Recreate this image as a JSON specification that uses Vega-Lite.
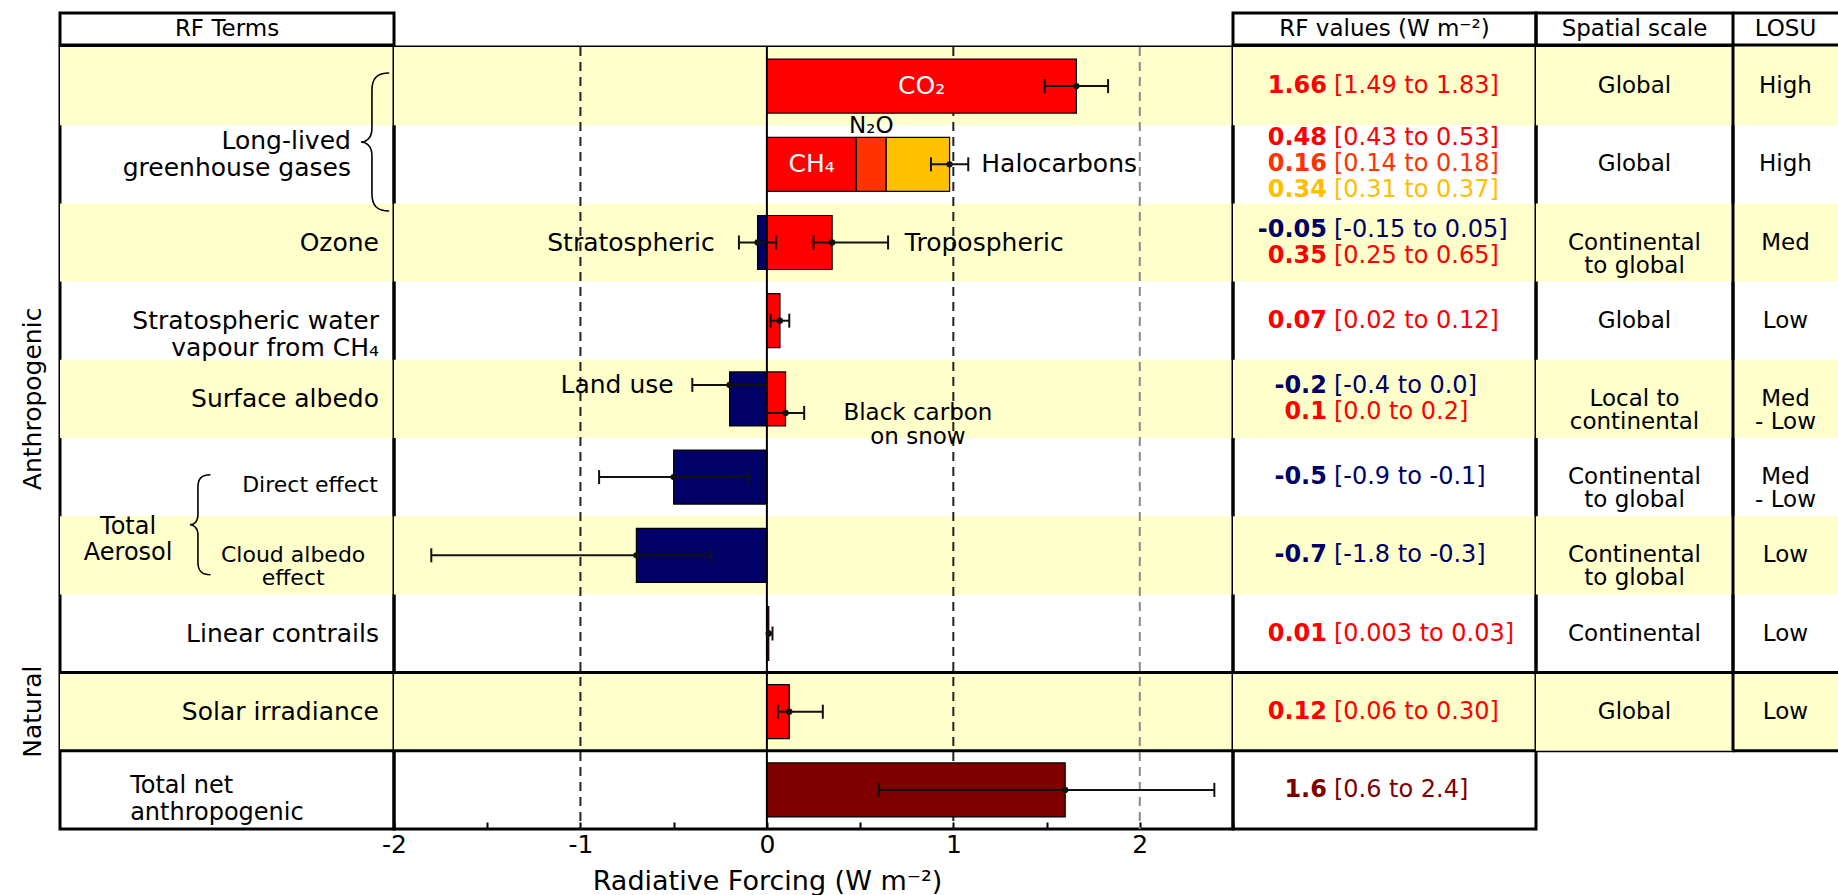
{
  "$schema": "https://vega.github.io/schema/vega-lite/v6.json",
  "background": "white",
  "padding": {"top": 11, "left": 0, "right": 0, "bottom": 0},
  "config": {
    "font": "DejaVu Sans",
    "view": {"stroke": "black", "strokeWidth": 3},
    "concat": {"spacing": 0},
    "text": {"fontSize": 23, "color": "black"}
  },
  "datasets": {
    "rf": [
      {"row": "co2", "term": "CO2", "value": 1.66, "val": "1.66", "rng": "[1.49 to 1.83]", "kind": "pos", "line": 0},
      {"row": "llghg", "term": "CH4", "value": 0.48, "val": "0.48", "rng": "[0.43 to 0.53]", "kind": "pos", "line": -1},
      {"row": "llghg", "term": "N2O", "value": 0.16, "val": "0.16", "rng": "[0.14 to 0.18]", "kind": "n2o", "line": 0},
      {"row": "llghg", "term": "Halocarbons", "value": 0.34, "val": "0.34", "rng": "[0.31 to 0.37]", "kind": "halo", "line": 1},
      {"row": "ozone", "term": "Stratospheric ozone", "value": -0.05, "val": "-0.05", "rng": "[-0.15 to 0.05]", "kind": "neg", "line": -0.5},
      {"row": "ozone", "term": "Tropospheric ozone", "value": 0.35, "val": "0.35", "rng": "[0.25 to 0.65]", "kind": "pos", "line": 0.5},
      {"row": "swv", "term": "Stratospheric water vapour", "value": 0.07, "val": "0.07", "rng": "[0.02 to 0.12]", "kind": "pos", "line": 0},
      {"row": "albedo", "term": "Land use", "value": -0.2, "val": "-0.2", "rng": "[-0.4 to 0.0]", "kind": "neg", "line": -0.5},
      {"row": "albedo", "term": "Black carbon on snow", "value": 0.1, "val": "0.1", "rng": "[0.0 to 0.2]", "kind": "pos", "line": 0.5},
      {"row": "direct", "term": "Aerosol direct effect", "value": -0.5, "val": "-0.5", "rng": "[-0.9 to -0.1]", "kind": "neg", "line": 0},
      {"row": "cloud", "term": "Cloud albedo effect", "value": -0.7, "val": "-0.7", "rng": "[-1.8 to -0.3]", "kind": "neg", "line": 0},
      {"row": "contrails", "term": "Linear contrails", "value": 0.01, "val": "0.01", "rng": "[0.003 to 0.03]", "kind": "pos", "line": 0},
      {"row": "solar", "term": "Solar irradiance", "value": 0.12, "val": "0.12", "rng": "[0.06 to 0.30]", "kind": "pos", "line": 0},
      {"row": "total", "term": "Total net anthropogenic", "value": 1.6, "val": "1.6", "rng": "[0.6 to 2.4]", "kind": "total", "line": 0}
    ],
    "errors": [
      {"row": "co2", "value": 1.66, "lo": 1.49, "hi": 1.83, "sub": 0},
      {"row": "llghg", "value": 0.98, "lo": 0.88, "hi": 1.08, "sub": 0},
      {"row": "ozone", "value": -0.05, "lo": -0.15, "hi": 0.05, "sub": 0},
      {"row": "ozone", "value": 0.35, "lo": 0.25, "hi": 0.65, "sub": 0},
      {"row": "swv", "value": 0.07, "lo": 0.02, "hi": 0.12, "sub": 0},
      {"row": "albedo", "value": -0.2, "lo": -0.4, "hi": 0.0, "sub": -1},
      {"row": "albedo", "value": 0.1, "lo": 0.0, "hi": 0.2, "sub": 1},
      {"row": "direct", "value": -0.5, "lo": -0.9, "hi": -0.1, "sub": 0},
      {"row": "cloud", "value": -0.7, "lo": -1.8, "hi": -0.3, "sub": 0},
      {"row": "contrails", "value": 0.01, "lo": 0.003, "hi": 0.03, "sub": 0},
      {"row": "solar", "value": 0.12, "lo": 0.06, "hi": 0.30, "sub": 0},
      {"row": "total", "value": 1.6, "lo": 0.6, "hi": 2.4, "sub": 0}
    ],
    "shaded": [{"row": "co2"}, {"row": "ozone"}, {"row": "albedo"}, {"row": "cloud"}, {"row": "solar"}]
  },
  "spacing": -3,
  "resolve": {"scale": {"yOffset": "independent", "color": "independent"}},
  "vconcat": [
    {
      "spacing": 0,
      "bounds": "flush",
      "hconcat": [
        {"width": 60, "height": 32, "view": {"stroke": null}, "data": {"values": [{"h": ""}]}, "mark": {"type": "text"}, "encoding": {"text": {"field": "h"}}},
        {"width": 334, "height": 32, "view": {"stroke": null}, "layer": [
          {"data": {"values": [{}]}, "mark": {"type": "rect", "fill": null, "stroke": "black", "strokeWidth": 3}, "encoding": {}},
          {"data": {"values": [{"h": "RF Terms"}]}, "mark": {"type": "text", "fontSize": 23}, "encoding": {"text": {"field": "h"}}}
        ]},
        {"width": 839, "height": 32, "view": {"stroke": null}, "data": {"values": [{"h": ""}]}, "mark": {"type": "text"}, "encoding": {"text": {"field": "h"}}},
        {"width": 303, "height": 32, "view": {"stroke": null}, "layer": [
          {"data": {"values": [{}]}, "mark": {"type": "rect", "fill": null, "stroke": "black", "strokeWidth": 3}, "encoding": {}},
          {"data": {"values": [{"h": "RF values (W m⁻²)"}]}, "mark": {"type": "text", "fontSize": 23}, "encoding": {"text": {"field": "h"}}}
        ]},
        {"width": 197, "height": 32, "view": {"stroke": null}, "layer": [
          {"data": {"values": [{}]}, "mark": {"type": "rect", "fill": null, "stroke": "black", "strokeWidth": 3}, "encoding": {}},
          {"data": {"values": [{"h": "Spatial scale"}]}, "mark": {"type": "text", "fontSize": 23}, "encoding": {"text": {"field": "h"}}}
        ]},
        {"width": 105, "height": 32, "view": {"stroke": null}, "layer": [
          {"data": {"values": [{"h": "LOSU"}]}, "mark": {"type": "text", "fontSize": 23}, "encoding": {"text": {"field": "h"}}},
          {"data": {"values": [{}]}, "mark": {"type": "rule", "color": "black", "strokeWidth": 3}, "encoding": {"y": {"datum": 0, "type": "quantitative", "scale": {"domain": [0, 1]}, "axis": null}}},
          {"data": {"values": [{}]}, "mark": {"type": "rule", "color": "black", "strokeWidth": 3}, "encoding": {"y": {"datum": 1, "type": "quantitative", "scale": {"domain": [0, 1]}, "axis": null}}}
        ]}
      ]
    },
    {
      "spacing": 0,
      "bounds": "flush",
      "resolve": {"scale": {"yOffset": "independent", "color": "independent"}},
      "hconcat": [
        {"width": 60, "height": 782, "view": {"stroke": null}, "layer": [
          {"data": {"values": [{"g": "Anthropogenic"}]}, "mark": {"type": "text", "angle": 270, "fontSize": 25},
           "encoding": {"text": {"field": "g"},
             "x": {"datum": 0.55, "type": "quantitative", "scale": {"domain": [0, 1]}, "axis": null},
             "y": {"datum": "albedo", "type": "nominal", "bandPosition": 0, "scale": {"domain": ["co2","llghg","ozone","swv","albedo","direct","cloud","contrails","solar","total"], "paddingInner": 0, "paddingOuter": 0}, "axis": null}}},
          {"data": {"values": [{"g": "Natural"}]}, "mark": {"type": "text", "angle": 270, "fontSize": 25},
           "encoding": {"text": {"field": "g"},
             "x": {"datum": 0.55, "type": "quantitative", "scale": {"domain": [0, 1]}, "axis": null},
             "y": {"datum": "solar", "type": "nominal", "scale": {"domain": ["co2","llghg","ozone","swv","albedo","direct","cloud","contrails","solar","total"], "paddingInner": 0, "paddingOuter": 0}, "axis": null}}}
        ]},
        {"width": 334, "height": 782, "layer": [
          {"data": {"name": "shaded"}, "mark": {"type": "rect", "color": "#FFFFCC"},
           "encoding": {"y": {"field": "row", "type": "nominal", "scale": {"domain": ["co2","llghg","ozone","swv","albedo","direct","cloud","contrails","solar","total"], "paddingInner": 0, "paddingOuter": 0}, "axis": null}}},
          {"data": {"values": [{"row": "solar"}, {"row": "total"}]}, "mark": {"type": "rule", "color": "black", "strokeWidth": 3},
           "encoding": {"y": {"field": "row", "type": "nominal", "bandPosition": 0, "scale": {"domain": ["co2","llghg","ozone","swv","albedo","direct","cloud","contrails","solar","total"], "paddingInner": 0, "paddingOuter": 0}, "axis": null}}},
          {"data": {"values": [
              {"row": "ozone", "t": "Ozone"},
              {"row": "swv", "t": "Stratospheric water\nvapour from CH₄"},
              {"row": "albedo", "t": "Surface albedo"},
              {"row": "contrails", "t": "Linear contrails"},
              {"row": "solar", "t": "Solar irradiance"}]},
           "mark": {"type": "text", "align": "right", "fontSize": 25, "lineHeight": 27, "lineBreak": "\n"},
           "encoding": {"text": {"field": "t"},
             "x": {"datum": 0.955, "type": "quantitative", "scale": {"domain": [0, 1]}, "axis": null},
             "y": {"field": "row", "type": "nominal", "scale": {"domain": ["co2","llghg","ozone","swv","albedo","direct","cloud","contrails","solar","total"], "paddingInner": 0, "paddingOuter": 0}, "axis": null}}},
          {"data": {"values": [{"t": "Long-lived\ngreenhouse gases"}]},
           "mark": {"type": "text", "align": "right", "fontSize": 25, "lineHeight": 27, "lineBreak": "\n"},
           "encoding": {"text": {"field": "t"},
             "x": {"datum": 0.871, "type": "quantitative", "scale": {"domain": [0, 1]}, "axis": null},
             "y": {"datum": "llghg", "type": "nominal", "bandPosition": 0.2, "scale": {"domain": ["co2","llghg","ozone","swv","albedo","direct","cloud","contrails","solar","total"], "paddingInner": 0, "paddingOuter": 0}, "axis": null}}},
          {"data": {"values": [{"b": "llghg"}]},
           "mark": {"type": "point", "shape": "M0.25,-1C0.08,-1,0,-0.93,0,-0.75L0,-0.2C0,-0.06,-0.08,0,-0.16,0C-0.08,0,0,0.06,0,0.2L0,0.75C0,0.93,0.08,1,0.25,1", "size": 19044, "filled": false, "stroke": "black", "strokeWidth": 1.6, "opacity": 1},
           "encoding": {
             "x": {"datum": 0.934, "type": "quantitative", "scale": {"domain": [0, 1]}, "axis": null},
             "y": {"datum": "llghg", "type": "nominal", "bandPosition": 0.215, "scale": {"domain": ["co2","llghg","ozone","swv","albedo","direct","cloud","contrails","solar","total"], "paddingInner": 0, "paddingOuter": 0}, "axis": null}}},
          {"data": {"values": [{"t": "Direct effect"}]},
           "mark": {"type": "text", "align": "right", "fontSize": 22},
           "encoding": {"text": {"field": "t"},
             "x": {"datum": 0.952, "type": "quantitative", "scale": {"domain": [0, 1]}, "axis": null},
             "y": {"datum": "direct", "type": "nominal", "bandPosition": 0.6, "scale": {"domain": ["co2","llghg","ozone","swv","albedo","direct","cloud","contrails","solar","total"], "paddingInner": 0, "paddingOuter": 0}, "axis": null}}},
          {"data": {"values": [{"t": "Cloud albedo\neffect"}]},
           "mark": {"type": "text", "align": "center", "fontSize": 22, "lineHeight": 23, "lineBreak": "\n"},
           "encoding": {"text": {"field": "t"},
             "x": {"datum": 0.698, "type": "quantitative", "scale": {"domain": [0, 1]}, "axis": null},
             "y": {"datum": "cloud", "type": "nominal", "scale": {"domain": ["co2","llghg","ozone","swv","albedo","direct","cloud","contrails","solar","total"], "paddingInner": 0, "paddingOuter": 0}, "axis": null}}},
          {"data": {"values": [{"t": "Total\nAerosol"}]},
           "mark": {"type": "text", "align": "center", "fontSize": 24, "lineHeight": 26, "lineBreak": "\n"},
           "encoding": {"text": {"field": "t"},
             "x": {"datum": 0.204, "type": "quantitative", "scale": {"domain": [0, 1]}, "axis": null},
             "y": {"datum": "cloud", "type": "nominal", "bandPosition": 0.14, "scale": {"domain": ["co2","llghg","ozone","swv","albedo","direct","cloud","contrails","solar","total"], "paddingInner": 0, "paddingOuter": 0}, "axis": null}}},
          {"data": {"values": [{"b": "aerosol"}]},
           "mark": {"type": "point", "shape": "M0.25,-1C0.08,-1,0,-0.93,0,-0.75L0,-0.2C0,-0.06,-0.08,0,-0.16,0C-0.08,0,0,0.06,0,0.2L0,0.75C0,0.93,0.08,1,0.25,1", "size": 10000, "filled": false, "stroke": "black", "strokeWidth": 1.6, "opacity": 1},
           "encoding": {
             "x": {"datum": 0.413, "type": "quantitative", "scale": {"domain": [0, 1]}, "axis": null},
             "y": {"datum": "cloud", "type": "nominal", "bandPosition": 0.11, "scale": {"domain": ["co2","llghg","ozone","swv","albedo","direct","cloud","contrails","solar","total"], "paddingInner": 0, "paddingOuter": 0}, "axis": null}}},
          {"data": {"values": [{"t": "Total net\nanthropogenic"}]},
           "mark": {"type": "text", "align": "left", "fontSize": 24, "lineHeight": 27, "lineBreak": "\n"},
           "encoding": {"text": {"field": "t"},
             "x": {"datum": 0.21, "type": "quantitative", "scale": {"domain": [0, 1]}, "axis": null},
             "y": {"datum": "total", "type": "nominal", "bandPosition": 0.45, "scale": {"domain": ["co2","llghg","ozone","swv","albedo","direct","cloud","contrails","solar","total"], "paddingInner": 0, "paddingOuter": 0}, "axis": null}}}
        ]},
        {"width": 839, "height": 782,
         "resolve": {"axis": {"x": "independent"}, "scale": {"yOffset": "independent"}},
         "layer": [
          {"data": {"name": "shaded"}, "mark": {"type": "rect", "color": "#FFFFCC"},
           "encoding": {"y": {"field": "row", "type": "nominal", "scale": {"domain": ["co2","llghg","ozone","swv","albedo","direct","cloud","contrails","solar","total"], "paddingInner": 0, "paddingOuter": 0}, "axis": null}}},
          {"data": {"values": [{"row": "solar"}, {"row": "total"}]}, "mark": {"type": "rule", "color": "black", "strokeWidth": 3},
           "encoding": {"y": {"field": "row", "type": "nominal", "bandPosition": 0, "scale": {"domain": ["co2","llghg","ozone","swv","albedo","direct","cloud","contrails","solar","total"], "paddingInner": 0, "paddingOuter": 0}, "axis": null}}},
          {"data": {"values": [{"x": -1}, {"x": 1}, {"x": 2}]},
           "mark": {"type": "rule", "strokeDash": [9, 6], "strokeWidth": 2},
           "encoding": {
             "x": {"field": "x", "type": "quantitative", "scale": {"domain": [-2, 2.5], "nice": false, "zero": false},
                   "axis": {"orient": "top", "values": [-2, -1.5, -1, -0.5, 0, 0.5, 1, 1.5, 2, 2.5], "domain": false, "grid": false, "tickSize": -7, "tickWidth": 2, "tickColor": "black", "labels": false, "title": null}},
             "color": {"condition": {"test": "datum.x == 2", "value": "#8a8a8a"}, "value": "#222222"}}},
          {"data": {"name": "rf"},
           "mark": {"type": "bar", "height": {"band": 0.69}, "stroke": "black", "strokeWidth": 1.2},
           "encoding": {
             "y": {"field": "row", "type": "nominal", "scale": {"domain": ["co2","llghg","ozone","swv","albedo","direct","cloud","contrails","solar","total"], "paddingInner": 0, "paddingOuter": 0}, "axis": null},
             "x": {"field": "value", "type": "quantitative", "stack": "zero", "scale": {"domain": [-2, 2.5], "nice": false, "zero": false},
                   "axis": {"orient": "bottom", "values": [-2, -1.5, -1, -0.5, 0, 0.5, 1, 1.5, 2, 2.5], "domain": false, "grid": false, "tickSize": -7, "tickWidth": 2, "tickColor": "black",
                            "labelExpr": "(datum.value % 1 == 0 && datum.value < 2.4) ? datum.value : ''",
                            "labelFontSize": 25, "labelColor": "black", "labelPadding": 10, "labelFlush": false, "labelOverlap": false, "labelBound": false,
                            "title": "Radiative Forcing  (W m⁻²)", "titleFontSize": 27, "titleFontWeight": "normal", "titleColor": "black",
                            "titleX": 373, "titleY": 60, "titleAlign": "center", "titleBaseline": "alphabetic"}},
             "color": {"field": "kind", "type": "nominal", "scale": {"domain": ["pos", "n2o", "halo", "neg", "total"], "range": ["#FF0000", "#FF3300", "#FFC000", "#000066", "#800000"]}, "legend": null},
             "order": {"field": "line", "type": "quantitative"}}},
          {"data": {"values": [{}]}, "mark": {"type": "rule", "color": "black", "strokeWidth": 2},
           "encoding": {"x": {"datum": 0, "type": "quantitative", "scale": {"domain": [-2, 2.5], "nice": false, "zero": false}, "axis": null}}},
          {"data": {"name": "errors"}, "mark": {"type": "rule", "color": "#111111", "strokeWidth": 2},
           "encoding": {
             "y": {"field": "row", "type": "nominal", "bandPosition": 0, "scale": {"domain": ["co2","llghg","ozone","swv","albedo","direct","cloud","contrails","solar","total"], "paddingInner": 0, "paddingOuter": 0}, "axis": null},
             "yOffset": {"field": "sub", "type": "quantitative", "scale": {"domain": [-1, 1], "range": [25.1, 53.1]}},
             "x": {"field": "lo", "type": "quantitative", "scale": {"domain": [-2, 2.5], "nice": false, "zero": false}, "axis": null},
             "x2": {"field": "hi"}}},
          {"data": {"name": "errors"}, "mark": {"type": "tick", "color": "#111111", "thickness": 2, "size": 14, "opacity": 1},
           "encoding": {
             "y": {"field": "row", "type": "nominal", "bandPosition": 0, "scale": {"domain": ["co2","llghg","ozone","swv","albedo","direct","cloud","contrails","solar","total"], "paddingInner": 0, "paddingOuter": 0}, "axis": null},
             "yOffset": {"field": "sub", "type": "quantitative", "scale": {"domain": [-1, 1], "range": [25.1, 53.1]}},
             "x": {"field": "lo", "type": "quantitative", "scale": {"domain": [-2, 2.5], "nice": false, "zero": false}, "axis": null}}},
          {"data": {"name": "errors"}, "mark": {"type": "tick", "color": "#111111", "thickness": 2, "size": 14, "opacity": 1},
           "encoding": {
             "y": {"field": "row", "type": "nominal", "bandPosition": 0, "scale": {"domain": ["co2","llghg","ozone","swv","albedo","direct","cloud","contrails","solar","total"], "paddingInner": 0, "paddingOuter": 0}, "axis": null},
             "yOffset": {"field": "sub", "type": "quantitative", "scale": {"domain": [-1, 1], "range": [25.1, 53.1]}},
             "x": {"field": "hi", "type": "quantitative", "scale": {"domain": [-2, 2.5], "nice": false, "zero": false}, "axis": null}}},
          {"data": {"name": "errors"}, "mark": {"type": "circle", "color": "#111111", "size": 40, "opacity": 1},
           "encoding": {
             "y": {"field": "row", "type": "nominal", "bandPosition": 0, "scale": {"domain": ["co2","llghg","ozone","swv","albedo","direct","cloud","contrails","solar","total"], "paddingInner": 0, "paddingOuter": 0}, "axis": null},
             "yOffset": {"field": "sub", "type": "quantitative", "scale": {"domain": [-1, 1], "range": [25.1, 53.1]}},
             "x": {"field": "value", "type": "quantitative", "scale": {"domain": [-2, 2.5], "nice": false, "zero": false}, "axis": null}}},
          {"data": {"values": [{"row": "co2", "x": 0.83, "t": "CO₂"}, {"row": "llghg", "x": 0.24, "t": "CH₄"}]},
           "mark": {"type": "text", "color": "white", "fontSize": 25},
           "encoding": {"text": {"field": "t"},
             "y": {"field": "row", "type": "nominal", "scale": {"domain": ["co2","llghg","ozone","swv","albedo","direct","cloud","contrails","solar","total"], "paddingInner": 0, "paddingOuter": 0}, "axis": null},
             "x": {"field": "x", "type": "quantitative", "scale": {"domain": [-2, 2.5], "nice": false, "zero": false}, "axis": null}}},
          {"data": {"values": [{"row": "llghg", "x": 0.56, "t": "N₂O"}]},
           "mark": {"type": "text", "fontSize": 23, "dy": -38},
           "encoding": {"text": {"field": "t"},
             "y": {"field": "row", "type": "nominal", "scale": {"domain": ["co2","llghg","ozone","swv","albedo","direct","cloud","contrails","solar","total"], "paddingInner": 0, "paddingOuter": 0}, "axis": null},
             "x": {"field": "x", "type": "quantitative", "scale": {"domain": [-2, 2.5], "nice": false, "zero": false}, "axis": null}}},
          {"data": {"values": [{"row": "llghg", "x": 1.15, "t": "Halocarbons"}, {"row": "ozone", "x": 0.74, "t": "Tropospheric"}]},
           "mark": {"type": "text", "align": "left", "fontSize": 25},
           "encoding": {"text": {"field": "t"},
             "y": {"field": "row", "type": "nominal", "scale": {"domain": ["co2","llghg","ozone","swv","albedo","direct","cloud","contrails","solar","total"], "paddingInner": 0, "paddingOuter": 0}, "axis": null},
             "x": {"field": "x", "type": "quantitative", "scale": {"domain": [-2, 2.5], "nice": false, "zero": false}, "axis": null}}},
          {"data": {"values": [{"row": "ozone", "x": -0.28, "t": "Stratospheric", "sub": 0}, {"row": "albedo", "x": -0.5, "t": "Land use", "sub": -1}]},
           "mark": {"type": "text", "align": "right", "fontSize": 25},
           "encoding": {"text": {"field": "t"},
             "y": {"field": "row", "type": "nominal", "bandPosition": 0, "scale": {"domain": ["co2","llghg","ozone","swv","albedo","direct","cloud","contrails","solar","total"], "paddingInner": 0, "paddingOuter": 0}, "axis": null},
             "yOffset": {"field": "sub", "type": "quantitative", "scale": {"domain": [-1, 1], "range": [25.1, 53.1]}},
             "x": {"field": "x", "type": "quantitative", "scale": {"domain": [-2, 2.5], "nice": false, "zero": false}, "axis": null}}},
          {"data": {"values": [{"row": "albedo", "x": 0.81, "t": "Black carbon\non snow", "sub": 1}]},
           "mark": {"type": "text", "align": "center", "fontSize": 23, "lineHeight": 24, "lineBreak": "\n"},
           "encoding": {"text": {"field": "t"},
             "y": {"field": "row", "type": "nominal", "bandPosition": 0, "scale": {"domain": ["co2","llghg","ozone","swv","albedo","direct","cloud","contrails","solar","total"], "paddingInner": 0, "paddingOuter": 0}, "axis": null},
             "yOffset": {"field": "sub", "type": "quantitative", "scale": {"domain": [-1, 1], "range": [25.1, 53.1]}},
             "x": {"field": "x", "type": "quantitative", "scale": {"domain": [-2, 2.5], "nice": false, "zero": false}, "axis": null}}}
        ]},
        {"width": 303, "height": 782,
         "resolve": {"scale": {"yOffset": "independent"}},
         "layer": [
          {"data": {"name": "shaded"}, "mark": {"type": "rect", "color": "#FFFFCC"},
           "encoding": {"y": {"field": "row", "type": "nominal", "scale": {"domain": ["co2","llghg","ozone","swv","albedo","direct","cloud","contrails","solar","total"], "paddingInner": 0, "paddingOuter": 0}, "axis": null}}},
          {"data": {"values": [{"row": "solar"}, {"row": "total"}]}, "mark": {"type": "rule", "color": "black", "strokeWidth": 3},
           "encoding": {"y": {"field": "row", "type": "nominal", "bandPosition": 0, "scale": {"domain": ["co2","llghg","ozone","swv","albedo","direct","cloud","contrails","solar","total"], "paddingInner": 0, "paddingOuter": 0}, "axis": null}}},
          {"data": {"name": "rf"},
           "mark": {"type": "text", "align": "right", "fontWeight": "bold", "fontSize": 24},
           "encoding": {"text": {"field": "val"},
             "x": {"datum": 0.31, "type": "quantitative", "scale": {"domain": [0, 1]}, "axis": null},
             "y": {"field": "row", "type": "nominal", "bandPosition": 0, "scale": {"domain": ["co2","llghg","ozone","swv","albedo","direct","cloud","contrails","solar","total"], "paddingInner": 0, "paddingOuter": 0}, "axis": null},
             "yOffset": {"field": "line", "type": "quantitative", "scale": {"domain": [-1, 1], "range": [13.1, 65.1]}},
             "color": {"field": "kind", "type": "nominal", "scale": {"domain": ["pos", "n2o", "halo", "neg", "total"], "range": ["#FF0000", "#FF3300", "#FFBF00", "#000066", "#800000"]}, "legend": null}}},
          {"data": {"name": "rf"},
           "mark": {"type": "text", "align": "left", "fontSize": 24, "dx": 7},
           "encoding": {"text": {"field": "rng"},
             "x": {"datum": 0.31, "type": "quantitative", "scale": {"domain": [0, 1]}, "axis": null},
             "y": {"field": "row", "type": "nominal", "bandPosition": 0, "scale": {"domain": ["co2","llghg","ozone","swv","albedo","direct","cloud","contrails","solar","total"], "paddingInner": 0, "paddingOuter": 0}, "axis": null},
             "yOffset": {"field": "line", "type": "quantitative", "scale": {"domain": [-1, 1], "range": [13.1, 65.1]}},
             "color": {"field": "kind", "type": "nominal", "scale": {"domain": ["pos", "n2o", "halo", "neg", "total"], "range": ["#FF0000", "#FF3300", "#FFBF00", "#000066", "#800000"]}, "legend": null}}}
        ]},
        {"width": 197, "height": 703.8, "layer": [
          {"data": {"name": "shaded"}, "mark": {"type": "rect", "color": "#FFFFCC"},
           "encoding": {"y": {"field": "row", "type": "nominal", "scale": {"domain": ["co2","llghg","ozone","swv","albedo","direct","cloud","contrails","solar"], "paddingInner": 0, "paddingOuter": 0}, "axis": null}}},
          {"data": {"values": [{"row": "solar"}]}, "mark": {"type": "rule", "color": "black", "strokeWidth": 3},
           "encoding": {"y": {"field": "row", "type": "nominal", "bandPosition": 0, "scale": {"domain": ["co2","llghg","ozone","swv","albedo","direct","cloud","contrails","solar"], "paddingInner": 0, "paddingOuter": 0}, "axis": null}}},
          {"data": {"values": [
              {"row": "co2", "t": "Global"},
              {"row": "llghg", "t": "Global"},
              {"row": "ozone", "t": "Continental\nto global"},
              {"row": "swv", "t": "Global"},
              {"row": "albedo", "t": "Local to\ncontinental"},
              {"row": "direct", "t": "Continental\nto global"},
              {"row": "cloud", "t": "Continental\nto global"},
              {"row": "contrails", "t": "Continental"},
              {"row": "solar", "t": "Global"}]},
           "mark": {"type": "text", "fontSize": 23, "lineHeight": 23, "lineBreak": "\n"},
           "encoding": {"text": {"field": "t"},
             "y": {"field": "row", "type": "nominal", "scale": {"domain": ["co2","llghg","ozone","swv","albedo","direct","cloud","contrails","solar"], "paddingInner": 0, "paddingOuter": 0}, "axis": null}}}
        ]},
        {"width": 105, "height": 703.8, "view": {"stroke": null}, "layer": [
          {"data": {"name": "shaded"}, "mark": {"type": "rect", "color": "#FFFFCC"},
           "encoding": {"y": {"field": "row", "type": "nominal", "scale": {"domain": ["co2","llghg","ozone","swv","albedo","direct","cloud","contrails","solar"], "paddingInner": 0, "paddingOuter": 0}, "axis": null}}},
          {"data": {"values": [{"row": "solar"}]}, "mark": {"type": "rule", "color": "black", "strokeWidth": 3},
           "encoding": {"y": {"field": "row", "type": "nominal", "bandPosition": 0, "scale": {"domain": ["co2","llghg","ozone","swv","albedo","direct","cloud","contrails","solar"], "paddingInner": 0, "paddingOuter": 0}, "axis": null}}},
          {"data": {"values": [{"row": "solar"}]}, "mark": {"type": "rule", "color": "black", "strokeWidth": 3},
           "encoding": {"y": {"field": "row", "type": "nominal", "bandPosition": 1, "scale": {"domain": ["co2","llghg","ozone","swv","albedo","direct","cloud","contrails","solar"], "paddingInner": 0, "paddingOuter": 0}, "axis": null}}},
          {"data": {"values": [{}]}, "mark": {"type": "rule", "color": "black", "strokeWidth": 3},
           "encoding": {"x": {"datum": 0, "type": "quantitative", "scale": {"domain": [0, 1]}, "axis": null}}},
          {"data": {"values": [
              {"row": "co2", "t": "High"},
              {"row": "llghg", "t": "High"},
              {"row": "ozone", "t": "Med"},
              {"row": "swv", "t": "Low"},
              {"row": "albedo", "t": "Med\n- Low"},
              {"row": "direct", "t": "Med\n- Low"},
              {"row": "cloud", "t": "Low"},
              {"row": "contrails", "t": "Low"},
              {"row": "solar", "t": "Low"}]},
           "mark": {"type": "text", "fontSize": 23, "lineHeight": 23, "lineBreak": "\n"},
           "encoding": {"text": {"field": "t"},
             "y": {"field": "row", "type": "nominal", "scale": {"domain": ["co2","llghg","ozone","swv","albedo","direct","cloud","contrails","solar"], "paddingInner": 0, "paddingOuter": 0}, "axis": null}}}
        ]}
      ]
    }
  ]
}
